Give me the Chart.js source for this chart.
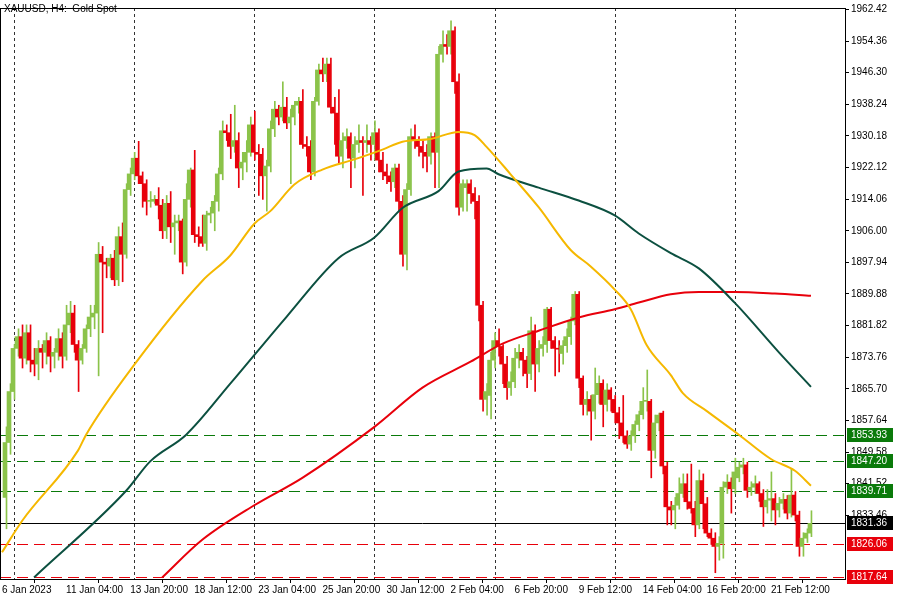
<!DOCTYPE html>
<html><head><meta charset="utf-8">
<script src="https://cdn.jsdelivr.net/npm/chart.js@4/dist/chart.umd.min.js"></script>
<style>
html,body{margin:0;padding:0;background:#fff;}
#wrap{position:relative;width:900px;height:600px;}
#title{position:absolute;left:4px;top:3px;font:10px "Liberation Sans",sans-serif;color:#000;}
</style></head><body>
<div id="wrap"><canvas id="c" width="900" height="600"></canvas><div id="title">XAUUSD, H4:&nbsp; Gold Spot</div></div>
<script>
// ---- data ----
const opens = [1838,1852,1865,1876,1879,1873.5,1880,1873,1872,1876,1875,1878,1874,1875,1878.5,1874,1882,1885,1877,1873,1876,1881,1884,1885,1900,1898,1897,1899,1893.5,1904.5,1900,1916.5,1920.5,1924.5,1920,1918,1913.5,1913.5,1914,1912.5,1906,1913,1907,1908,1908.5,1898,1914,1921.5,1905,1904.5,1902.8,1910,1910.5,1913.5,1920.5,1931.5,1931,1927.5,1929,1922,1923.5,1926,1933,1926,1925.5,1920,1922.5,1932,1937,1935,1937.5,1933.5,1935,1938,1939,1928,1927.5,1921,1939,1947,1946,1948.5,1937.5,1936,1925,1929,1930,1924.5,1928,1929,1928.5,1929,1928,1931,1924,1921,1920,1918.5,1922,1913.5,1900,1916.5,1930,1929,1927.5,1926,1925,1930,1926,1951,1953.5,1953,1957,1944,1912,1917,1918,1915.5,1913.5,1887,1863,1864,1873,1878,1876.5,1872,1866,1867.5,1873.5,1875,1873,1869.6,1880.5,1872,1876,1877,1886,1878,1876,1874.7,1876.7,1879,1883,1889.8,1868.4,1861.7,1863,1860,1864.2,1867.1,1861.7,1865.4,1863,1859.6,1857,1853.7,1851.6,1853.7,1856.6,1859.1,1862.5,1862.5,1850,1857,1859.5,1846,1835.6,1834.8,1836,1839,1841.5,1836.9,1835.2,1831,1842.3,1836.4,1828.9,1827.6,1825.5,1826.3,1840.6,1841.9,1840.2,1843,1845.7,1846.3,1839.8,1840.6,1841.5,1839,1835.6,1837.3,1837.7,1834.8,1836.5,1837.5,1834,1838.6,1833.5,1825.5,1827.6,1828.9];
const closes = [1852,1865,1876,1879,1873.5,1880,1873,1872,1876,1875,1878,1874,1875,1878.5,1874,1882,1885,1877,1873,1876,1881,1884,1885,1900,1898,1897.5,1899,1893.5,1904.5,1900,1916.5,1920.5,1924.5,1920,1918,1913.5,1913.5,1914,1912.5,1906,1913,1907,1908,1908.5,1898,1914,1921.5,1905,1904.5,1902.8,1910,1910.5,1913.5,1920.5,1931.5,1931,1927.5,1929,1922,1923.5,1926,1933,1926,1925.5,1920,1922.5,1932,1937,1935,1937.5,1933.5,1935,1938,1939,1928,1927.5,1921,1939,1947,1946,1948.5,1937.5,1936,1925,1929,1930,1924.5,1928,1929,1928.5,1929,1928,1931,1924,1921,1920,1918.5,1922,1913.5,1900,1916.5,1930,1929,1927.5,1926,1925,1930,1926,1951,1953.5,1953,1957,1944,1912,1918,1918,1915.5,1913.5,1887,1863,1865,1873,1878,1876.5,1872,1866,1867.5,1873.5,1875,1873,1869.6,1880.5,1872,1876,1877,1886,1878,1876,1875.8,1876.7,1879,1883,1889.8,1868.4,1861.7,1863,1860,1864.2,1867.1,1861.7,1865.4,1863,1859.6,1857,1853.7,1851.6,1853.7,1856.6,1859.1,1862.5,1862.5,1850,1857,1859,1846,1835.6,1834.8,1836,1839,1841.5,1836.9,1835.2,1831,1842.3,1836.4,1828.9,1827.6,1825.5,1826.3,1840.6,1841.9,1840.2,1844.5,1845.7,1846.3,1839.8,1840.6,1841.5,1839,1835.6,1837.3,1837.7,1834.8,1836.5,1837.5,1834,1838.6,1833.5,1825.5,1827.6,1828.9,1831.4];
const highs = [1856,1867,1877,1881,1882,1882,1882,1876,1878,1877,1880,1879,1876,1881,1880,1887,1888,1887,1878,1877,1882,1887,1887,1903,1902,1899,1900,1901,1907,1908,1918,1922,1926,1928.8,1921,1919,1916,1915,1917,1914,1915,1916,1910,1910,1909,1918,1922,1926.5,1907,1910,1911,1912,1915,1922,1934,1933,1935.7,1938,1931,1926,1929,1935,1936.5,1928,1927,1924,1934,1939,1938,1944,1940,1937,1939,1940,1942,1930,1929,1940,1948.5,1950,1950,1950,1940,1942,1931,1932,1931,1930,1933,1930,1933,1930,1934,1932,1926,1923,1921,1923,1923,1915,1918,1932,1933,1930,1929,1928,1931,1931,1953,1957,1956,1959.5,1958,1946,1919,1919,1919,1917,1915,1888,1867,1875,1880,1881,1877,1874,1870,1876,1877,1876,1874,1884,1882,1878,1879,1886.5,1886.5,1879,1878,1878,1881,1884,1890.5,1890.5,1869,1865,1864,1871,1869,1868,1867,1866,1864,1861,1864,1855,1855,1857.5,1860,1866,1870.5,1863,1859,1859.5,1860,1847,1837,1838,1843,1844,1844,1846.5,1837,1845,1844,1838,1830,1829,1828,1842,1843.8,1843,1848,1847,1848,1847,1842,1843.5,1842,1840,1840,1844.5,1839,1838,1839,1838.5,1845.3,1839.5,1834.5,1829,1830,1834.6];
const lows = [1830,1849,1863,1874,1871,1872,1870,1869,1868,1871,1872,1870,1871,1873,1871,1873,1880,1875,1865,1872,1875,1879,1881,1869,1880,1894,1894,1892,1892,1893,1899,1915,1919,1918,1912,1910,1912,1913,1909,1904,1904,1903,1900,1906,1895,1897,1912,1903,1902,1902,1901,1908,1906,1911,1919,1929,1924.4,1926,1917,1919,1921,1925,1924,1915,1914,1911,1921,1930,1933,1934,1932,1918,1933,1936,1927,1925,1919,1920,1938,1944,1944,1936,1928,1923,1922,1927,1917,1922,1926,1915,1926,1924,1924,1921,1919,1918,1916,1917,1911,1897,1896,1915,1927,1925,1922,1921,1923,1917,1917,1949,1951,1951,1941,1910,1911,1911,1913,1909,1883,1860,1859,1858,1871,1874,1867,1863,1864,1866,1871,1869,1866,1868,1865,1870,1874,1875,1876,1869,1870,1872,1875,1877,1882,1866,1859,1859,1852.6,1858,1862,1856,1860,1860,1857,1853,1852,1850.5,1850,1852,1855,1858,1860,1843,1848,1855,1844,1831,1831,1830,1835,1838,1835,1834,1828,1830,1830,1828,1826,1818.8,1822,1822.5,1839,1834,1839,1842,1844,1838,1838.5,1839,1837,1830.6,1834,1832,1831,1833,1835,1832.5,1833,1832,1823,1823,1826.5,1828];
// moving averages: [bar index, value] readings
const maOrange = [[-1,1824],[4,1832],[18,1850],[20,1854],[32,1871.8],[49,1893.2],[56,1899.7],[62,1907.8],[66,1911],[72,1917.8],[79,1921.6],[87,1924.2],[94,1926.7],[99,1928.7],[106,1929.4],[113,1931.2],[117,1930.4],[120,1927.4],[126,1920.4],[133,1912],[141,1901.1],[146,1896.9],[152,1891],[156,1886],[160,1876.8],[166,1869.2],[169,1864.6],[175,1860],[183,1854],[191,1847.8],[197,1844.8],[201,1841]];
const maGreen = [[7,1817.6],[30,1839.7],[36,1847.2],[45,1854],[56,1867],[70,1884],[83,1899],[92,1904.3],[99,1911.8],[108,1916.1],[113,1921.1],[120,1921.9],[123,1920.4],[133,1917],[143,1913.7],[152,1909.9],[158,1905.3],[166,1900.3],[173,1896.4],[182,1887.6],[193,1875],[201,1866.2]];
const maRed = [[39,1817.6],[49,1827.2],[62,1836],[74,1843],[92,1856],[104,1866],[116,1872.6],[124,1877.2],[133,1880.5],[143,1883.9],[152,1886],[158,1887.7],[166,1889.8],[173,1890.4],[182,1890.4],[192,1890],[201,1889.4]];
const xTickLabels = ['6 Jan 2023','11 Jan 04:00','13 Jan 20:00','18 Jan 12:00','23 Jan 04:00','25 Jan 20:00','30 Jan 12:00','2 Feb 04:00','6 Feb 20:00','9 Feb 12:00','14 Feb 04:00','16 Feb 20:00','21 Feb 12:00'];
const xTickIdx = [-1,15,31,47,63,79,95,111,127,143,159,175,191];
const vGridIdx = [2,32,62,92,122,152,182];
const yTicks = [1962.42,1954.36,1946.30,1938.24,1930.18,1922.12,1914.06,1906.00,1897.94,1889.88,1881.82,1873.76,1865.70,1857.64,1849.58,1841.52,1833.46];
const levelValues = [1853.93,1847.20,1839.71,1831.36,1826.06,1817.64];
const levelColors = ['#0a7a0a','#0a7a0a','#0a7a0a','#000000','#e8000b','#e8000b'];
const levelDashed = [true,true,true,false,true,true];

const UP='#8bc34a', DN='#e8000b';
const idx = opens.map((_,i)=>i);
const col = idx.map(i=> closes[i]>=opens[i]?UP:DN);

const overlay = {
  id:'overlay',
  beforeDatasetsDraw(ch){
    const {ctx,chartArea:a,scales:{x,y}}=ch;
    ctx.save();
    ctx.strokeStyle='#333';ctx.lineWidth=1;ctx.setLineDash([3,3]);
    vGridIdx.forEach(v=>{const px=Math.round(x.getPixelForValue(v))+0.5;ctx.beginPath();ctx.moveTo(px,a.top);ctx.lineTo(px,a.bottom);ctx.stroke();});
    levelValues.forEach((v,i)=>{
      const py=Math.round(y.getPixelForValue(v))+0.5;
      ctx.strokeStyle=levelColors[i];ctx.setLineDash(levelDashed[i]?[11,6]:[]);
      ctx.beginPath();ctx.moveTo(a.left,py);ctx.lineTo(a.right,py);ctx.stroke();
    });
    ctx.restore();
  },
  afterDraw(ch){
    const {ctx,chartArea:a,scales:{y}}=ch;
    ctx.save();
    ctx.strokeStyle='#000';ctx.lineWidth=1;ctx.setLineDash([]);
    ctx.strokeRect(a.left+0.5,a.top+0.5,a.right-a.left,a.bottom-a.top);
    ctx.font='10px "Liberation Sans"';ctx.textBaseline='middle';ctx.textAlign='left';
    levelValues.forEach((v,i)=>{
      const py=Math.round(y.getPixelForValue(v));
      ctx.fillStyle=levelColors[i];ctx.fillRect(a.right+2,py-7,46,14);
      ctx.fillStyle='#fff';ctx.fillText(v.toFixed(2),a.right+6,py+0.5);
    });
    ctx.restore();
  }
};

const maDs=(pts,color)=>({type:'line',data:pts.map(p=>({x:p[0],y:p[1]})),borderColor:color,borderWidth:2,pointRadius:0,cubicInterpolationMode:'monotone',order:0});

new Chart(document.getElementById('c'),{
  data:{datasets:[
    {type:'bar',data:idx.map(i=>({x:i,y:[lows[i],highs[i]]})),backgroundColor:col,barThickness:1,order:2},
    {type:'bar',data:idx.map(i=>({x:i,y:[opens[i],closes[i]]})),backgroundColor:col,barThickness:3,minBarLength:1,order:1},
    maDs(maOrange,'#f5b800'),maDs(maGreen,'#0c5040'),maDs(maRed,'#e8000b')
  ]},
  options:{
    responsive:false,animation:false,devicePixelRatio:1,
    layout:{padding:{left:0,top:2,right:0,bottom:0}},
    plugins:{legend:{display:false},tooltip:{enabled:false}},
    scales:{
      x:{type:'linear',min:-1.5,max:209.5,offset:false,
        grid:{drawOnChartArea:false,drawTicks:true,tickLength:4,color:'#000'},border:{display:false},
        afterBuildTicks(s){s.ticks=xTickIdx.map(v=>({value:v}));},
        afterFit(s){s.height=21;},
        ticks:{autoSkip:false,maxRotation:0,align:'start',padding:1,color:'#000',font:{family:'Liberation Sans',size:10},
          callback:(v,i)=>xTickLabels[i]}},
      y:{position:'right',min:1817.2,max:1962.8,
        grid:{drawOnChartArea:false,drawTicks:true,tickLength:4,color:'#000'},border:{display:false},
        afterBuildTicks(s){s.ticks=yTicks.map(v=>({value:v}));},
        afterFit(s){s.width=55;},
        ticks:{autoSkip:false,padding:2,color:'#000',font:{family:'Liberation Sans',size:10},callback:v=>v.toFixed(2)}}
    }
  },
  plugins:[overlay]
});
</script></body></html>
